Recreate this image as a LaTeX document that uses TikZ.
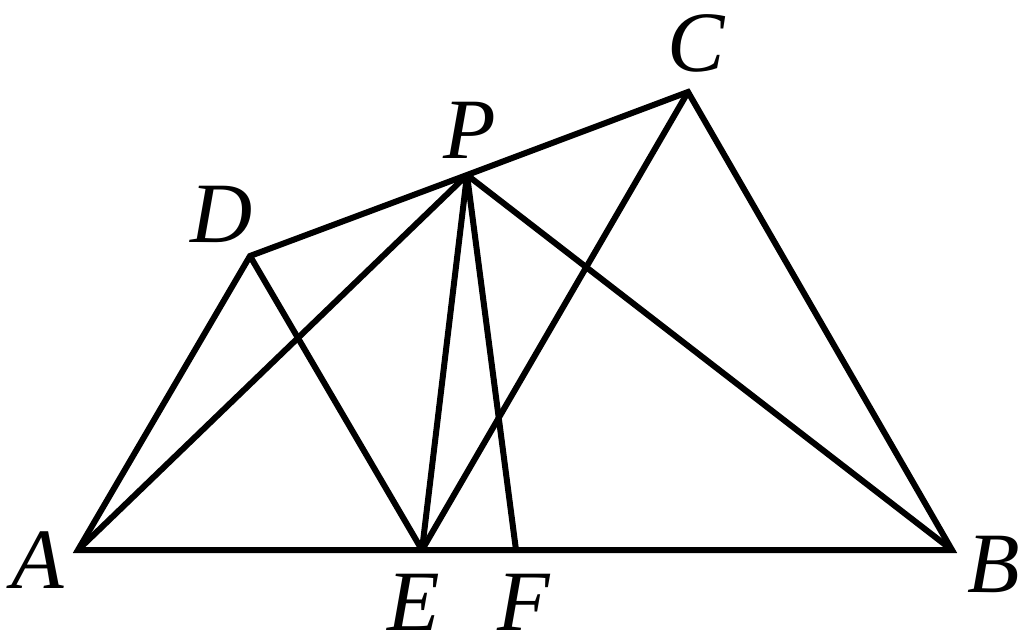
\documentclass[tikz,border=0pt]{standalone}
\usepackage{fontspec}
\newfontfamily\labfont{Liberation Serif Italic}
\begin{document}
\begin{tikzpicture}[x=1pt,y=-1pt,
  seg/.style={line width=6pt,line join=miter,line cap=butt},
  lab/.style={font=\fontsize{86}{86}\selectfont\labfont,inner sep=0pt,anchor=base,text depth=0pt}]
\useasboundingbox (0,0) rectangle (1028,642);
\coordinate (A) at (78,550);
\coordinate (B) at (952,550);
\coordinate (E) at (422,550);
\coordinate (F) at (516,550);
\coordinate (D) at (250,256);
\coordinate (P) at (467,175);
\coordinate (C) at (688,92);
\draw[seg] (A) -- (B);
\draw[seg] (B) -- (C) -- (P) -- (D) -- (A) -- cycle;
\draw[seg] (A) -- (P);
\draw[seg] (D) -- (E);
\draw[seg] (P) -- (E);
\draw[seg] (P) -- (F);
\draw[seg] (P) -- (B);
\draw[seg] (C) -- (E);
\node[lab] (lA) at (38,588) {A};
\node[lab] (lB) at (994,592) {B};
\node[lab] (lE) at (414,630) {E};
\node[lab] (lF) at (524,630) {F};
\node[lab] (lD) at (222,242) {D};
\node[lab] (lP) at (470,158) {P};
\node[lab] (lC) at (696,72) {C};
\end{tikzpicture}
\end{document}
